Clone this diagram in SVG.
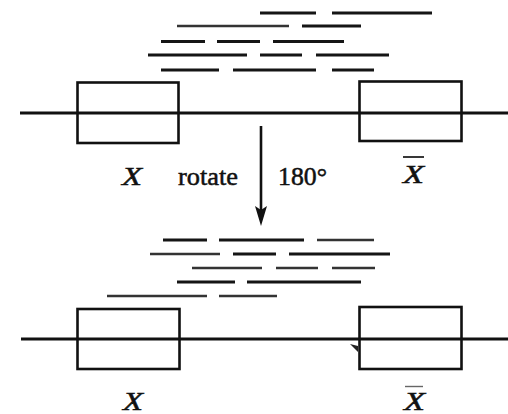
<svg xmlns="http://www.w3.org/2000/svg" width="508" height="414" viewBox="0 0 508 414">
  <style>
    .axis { stroke: #111; stroke-width: 3; fill: none; }
    .box { stroke: #111; stroke-width: 2.6; fill: none; }
    .seg { stroke: #151515; stroke-width: 3; stroke-linecap: butt; }
    .seg2 { stroke: #333; stroke-width: 2.6; }
    .lbl { font-family: "Liberation Serif", "Times New Roman", serif; font-size: 25px; fill: #111; stroke: #111; stroke-width: 0.5; }
    .var { font-style: italic; }
  </style>
  <rect width="508" height="414" fill="#fff"/>

  <!-- strand fragments above the first duplex -->
  <g id="fragments-top">
    <line class="seg" x1="260" y1="13" x2="316" y2="13"/>
    <line class="seg" x1="332" y1="13" x2="432" y2="13"/>
    <line class="seg2" x1="177" y1="26" x2="289" y2="26"/>
    <line class="seg" x1="302" y1="26" x2="361" y2="26"/>
    <line class="seg" x1="161" y1="41.5" x2="205" y2="41.5"/>
    <line class="seg" x1="217" y1="41.5" x2="260" y2="41.5"/>
    <line class="seg" x1="273" y1="41.5" x2="344" y2="41.5"/>
    <line class="seg" x1="148" y1="55" x2="247" y2="55"/>
    <line class="seg" x1="260" y1="55" x2="302" y2="55"/>
    <line class="seg" x1="316" y1="55" x2="389" y2="55"/>
    <line class="seg" x1="161" y1="70" x2="219" y2="70"/>
    <line class="seg" x1="233" y1="70" x2="316" y2="70"/>
    <line class="seg" x1="332" y1="70" x2="374" y2="70"/>
  </g>

  <!-- first duplex with the two inverted segments -->
  <g id="duplex-top">
    <line class="axis" x1="20" y1="113" x2="508" y2="113"/>
    <rect id="box-x-top" class="box" x="77.5" y="82.5" width="101" height="60.5"/>
    <rect id="box-xbar-top" class="box" x="359.5" y="81.5" width="102" height="59.5"/>
  </g>

  <g id="labels-top">
    <text class="lbl var" x="122" y="185" textLength="20" lengthAdjust="spacingAndGlyphs">X</text>
    <text class="lbl" x="178" y="185" textLength="60" lengthAdjust="spacingAndGlyphs">rotate</text>
    <text class="lbl" x="278" y="185" textLength="49" lengthAdjust="spacingAndGlyphs">180°</text>
    <text class="lbl var" x="403" y="183" textLength="21" lengthAdjust="spacingAndGlyphs">X</text>
    <line x1="403" y1="157" x2="424" y2="157" stroke="#222" stroke-width="1.8"/>
  </g>

  <!-- rotation arrow -->
  <g id="connectors">
    <line x1="261" y1="126" x2="261" y2="212" stroke="#111" stroke-width="2.6"/>
    <polygon points="261,226 255,206 261,210 267,206" fill="#111"/>
  </g>

  <!-- strand fragments above the rotated duplex -->
  <g id="fragments-bottom">
    <line class="seg" x1="163" y1="240" x2="207" y2="240"/>
    <line class="seg" x1="219" y1="240" x2="304" y2="240"/>
    <line class="seg2" x1="317" y1="240" x2="374" y2="240"/>
    <line class="seg2" x1="150" y1="254" x2="220" y2="254"/>
    <line class="seg" x1="233" y1="254" x2="276" y2="254"/>
    <line class="seg" x1="289" y1="254" x2="390" y2="254"/>
    <line class="seg2" x1="192" y1="268" x2="262" y2="268"/>
    <line class="seg2" x1="276" y1="268" x2="318" y2="268"/>
    <line class="seg2" x1="332" y1="268" x2="375" y2="268"/>
    <line class="seg" x1="177" y1="282" x2="235" y2="282"/>
    <line class="seg" x1="247" y1="282" x2="361" y2="282"/>
    <line class="seg2" x1="107" y1="296" x2="207" y2="296"/>
    <line class="seg2" x1="219" y1="296" x2="277" y2="296"/>
  </g>

  <!-- rotated duplex -->
  <g id="duplex-bottom">
    <line class="axis" x1="21" y1="339" x2="508" y2="339"/>
    <rect id="box-x-bottom" class="box" x="77.5" y="309" width="102" height="60"/>
    <rect id="box-xbar-bottom" class="box" x="359.5" y="307" width="102" height="62"/>
    <polygon points="350,344 358,346 358,352" fill="#222"/>
  </g>

  <g id="labels-bottom">
    <text class="lbl var" x="123" y="410" textLength="20" lengthAdjust="spacingAndGlyphs">X</text>
    <text class="lbl var" x="404" y="410" textLength="21" lengthAdjust="spacingAndGlyphs">X</text>
    <line x1="405" y1="386.5" x2="423" y2="386.5" stroke="#666" stroke-width="1.4"/>
  </g>
</svg>
